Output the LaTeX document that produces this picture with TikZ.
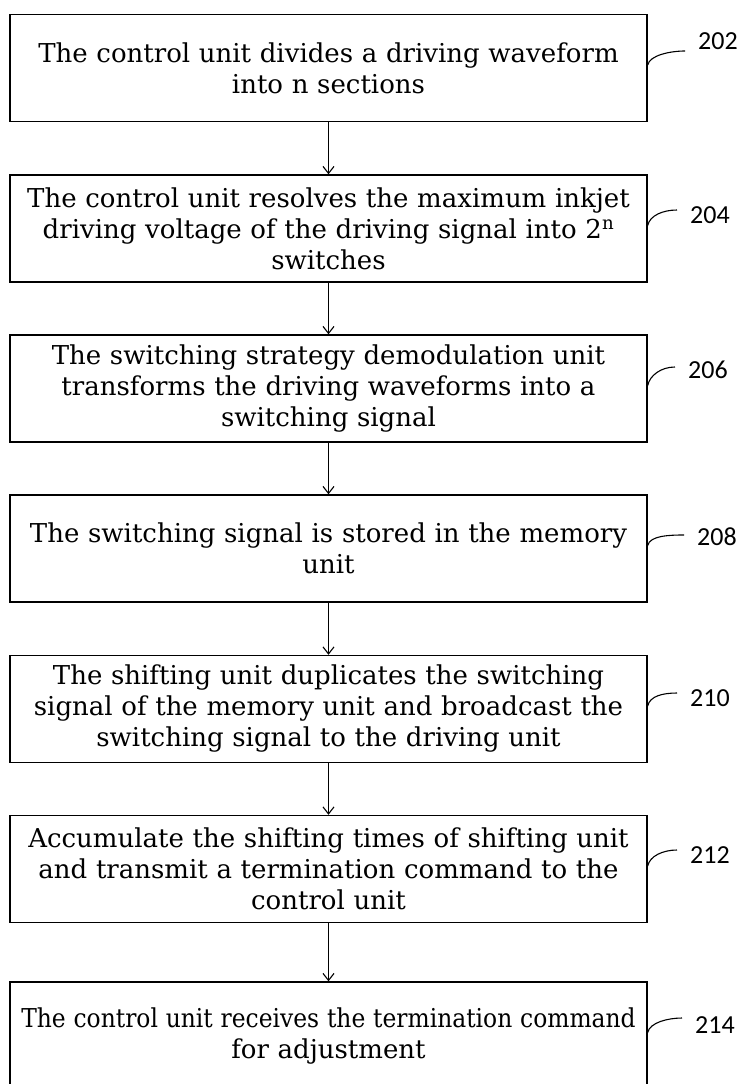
\documentclass[tikz,border=0pt]{standalone}
\usepackage{fontspec}
\usepackage{graphicx}
\setmainfont{DejaVu Serif}
\newfontfamily\refnumfont{Carlito}
\usetikzlibrary{arrows.meta}

\begin{document}
\begin{tikzpicture}[x=1pt,y=1pt,
  stepbox/.style={draw, line width=1.4pt, minimum width=637pt, minimum height=107pt,
    text width=630pt, align=center, inner sep=0pt,
    font=\fontsize{26}{31}\selectfont},
  flow/.style={line width=1.1pt, -{Straight Barb[length=7pt,width=11pt]}},
  lead/.style={line width=1.1pt},
  refnum/.style={anchor=west, inner sep=0pt, font=\refnumfont\fontsize{26}{30}\selectfont}]
\clip (0,0) rectangle (739,-1084);

% draw the steps
\foreach \n/\y/\txt in
{202/68/{The control unit divides a driving waveform\\into n sections},
 204/228.5/{The control unit resolves the maximum inkjet\\driving voltage of the driving signal into 2\textsuperscript{n}\\switches},
 206/388.5/{The switching strategy demodulation unit\\transforms the driving waveforms into a\\switching signal},
 208/548.5/{The switching signal is stored in the memory\\unit},
 210/709/{The shifting unit duplicates the switching\\signal of the memory unit and broadcast the\\switching signal to the driving unit},
 212/869/{Accumulate the shifting times of shifting unit\\and transmit a termination command to the\\control unit},
 214/1035.5/{\scalebox{0.9}[1]{The control unit receives the termination command}\\for adjustment}}
\node[stepbox] (s\n) at (328.5,-\y) {\txt};

% arrows between the steps
\foreach \a/\b in {202/204,204/206,206/208,208/210,210/212,212/214}
\draw[flow] (s\a) -- (s\b);

% reference numbers
\foreach \n/\lx/\ly/\dy in
{202/698/41/-10, 204/690/215/5, 206/688/370/3, 208/697/537/2,
 210/690/698/5, 212/690/855/5, 214/695/1025/7}
{
\node[refnum] (l\n) at (\lx,-\ly) {\n};
\draw[lead] ([yshift=3pt]s\n.east) .. controls +(2,10) and +(-14,0) .. ([xshift=-13pt,yshift=\dy pt]l\n.west);
}
\end{tikzpicture}
\end{document}
